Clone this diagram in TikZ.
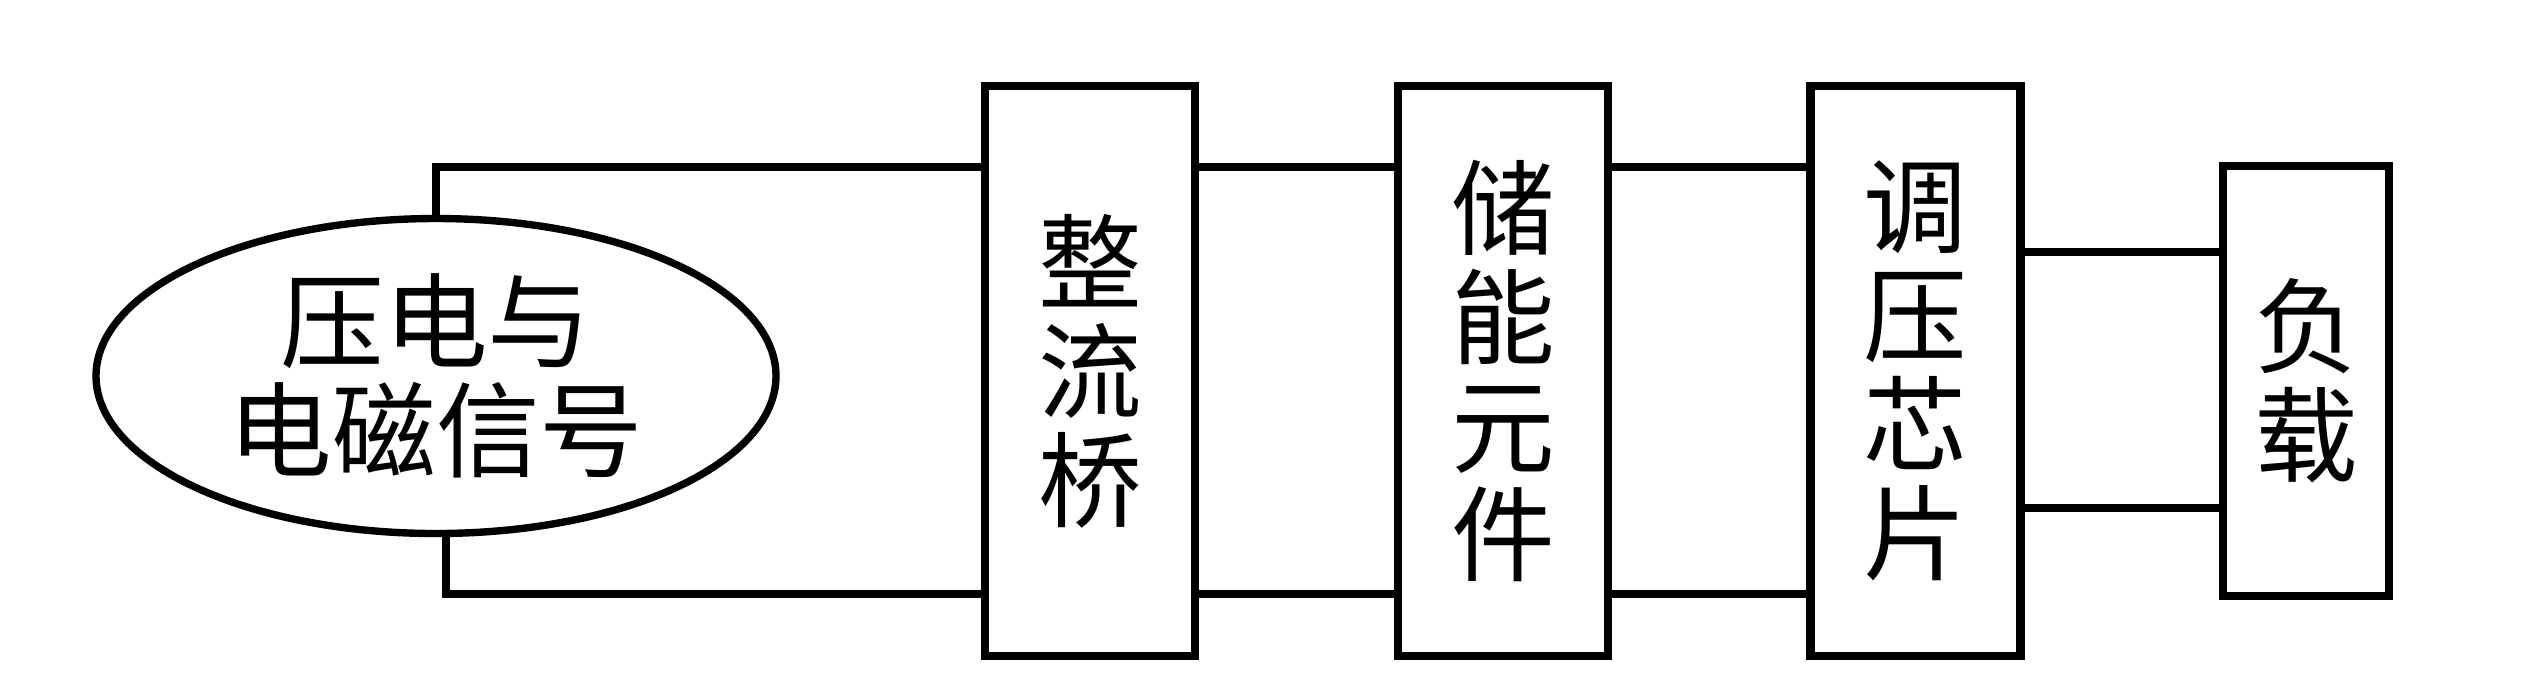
\documentclass[tikz,border=0pt]{standalone}
\usepackage{fontspec}
\newfontfamily\cjk{Noto Sans CJK SC}
\usetikzlibrary{shapes.geometric}
\begin{document}
\begin{tikzpicture}[
  line width=2.1pt,
  every node/.style={font=\cjk\fontsize{29.5pt}{31pt}\selectfont},
  blockbox/.style={draw, rectangle, line width=2.3pt, minimum width=2.10cm, minimum height=5.70cm, inner sep=0pt, align=center},
  loadbox/.style={draw, rectangle, line width=2.3pt, minimum width=1.66cm, minimum height=4.30cm, inner sep=0pt, align=center},
  sigell/.style={draw, ellipse, line width=2.1pt, minimum width=6.80cm, minimum height=3.15cm, inner sep=0pt, align=center},
  wire/.style={line width=2.1pt}
]
\useasboundingbox (0,0) rectangle (25.27,-6.77);
\node[sigell] (sig) at (4.36,-3.76) {压电与\\电磁信号};
\node[blockbox] (b1) at (10.90,-3.71) {整\\流\\桥};
\node[blockbox] (b2) at (15.03,-3.71) {储\\能\\元\\件};
\node[blockbox] (b3) at (19.155,-3.71) {调\\压\\芯\\片};
\node[loadbox] (b4) at (23.06,-3.81) {负\\载};
\coordinate (top) at (0,-1.67);
\coordinate (bot) at (0,-5.94);
\coordinate (top2) at (0,-2.52);
\coordinate (bot2) at (0,-5.08);
\draw[wire] (sig.north) |- (b1.west |- top);
\draw[wire] ([xshift=0.1cm]sig.south) |- (b1.west |- bot);
\draw[wire] (b1.east |- top) -- (b2.west |- top);
\draw[wire] (b1.east |- bot) -- (b2.west |- bot);
\draw[wire] (b2.east |- top) -- (b3.west |- top);
\draw[wire] (b2.east |- bot) -- (b3.west |- bot);
\draw[wire] (b3.east |- top2) -- (b4.west |- top2);
\draw[wire] (b3.east |- bot2) -- (b4.west |- bot2);
\end{tikzpicture}
\end{document}
